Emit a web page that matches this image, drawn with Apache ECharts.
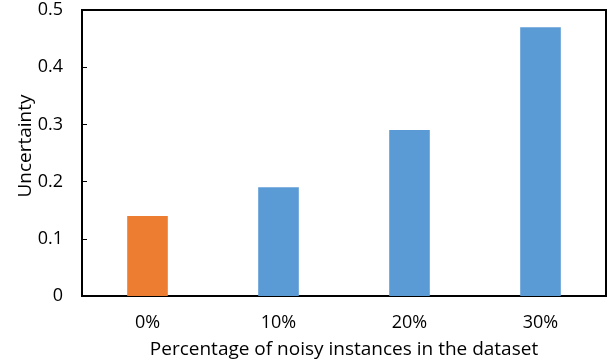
<!DOCTYPE html>
<html>
<head>
<meta charset="utf-8">
<script src="https://cdn.jsdelivr.net/npm/echarts@6/dist/echarts.min.js"></script>
<style>html,body{margin:0;padding:0;background:#fff;}#c{width:616px;height:364px;}</style>
</head>
<body>
<div id="c"></div>
<script>
var categories = ['0%', '10%', '20%', '30%'];
var values = [0.14, 0.19, 0.29, 0.47];
var barColors = ['#ED7D31', '#5B9BD5', '#5B9BD5', '#5B9BD5'];
var yTicks = [0, 0.1, 0.2, 0.3, 0.4, 0.5];

var font = '"Open Sans", "Noto Sans", sans-serif';
var chart = echarts.init(document.getElementById('c'), null, {renderer: 'canvas'});
chart.setOption({
  animation: false,
  backgroundColor: '#fff',
  grid: {left: 82, right: 10, top: 10, bottom: 65, show: true, borderColor: '#000', borderWidth: 2, backgroundColor: 'transparent'},
  xAxis: {
    type: 'category',
    data: categories,
    name: 'Percentage of noisy instances in the dataset',
    nameLocation: 'middle',
    nameGap: 44,
    nameMoveOverlap: false,
    nameTextStyle: {fontFamily: font, fontSize: 19, color: '#000'},
    axisLine: {lineStyle: {color: '#000', width: 2}},
    axisTick: {inside: true, length: 5, lineStyle: {color: '#000', width: 1}},
    axisLabel: {fontFamily: font, fontSize: 18, color: '#000', margin: 18}
  },
  yAxis: {
    type: 'value',
    min: yTicks[0],
    max: yTicks[yTicks.length - 1],
    interval: 0.1,
    name: 'Uncertainty',
    nameLocation: 'middle',
    nameRotate: 90,
    nameGap: 47,
    nameMoveOverlap: false,
    nameTextStyle: {fontFamily: font, fontSize: 19, color: '#000', padding: [0, 0, 0, 14]},
    axisLine: {show: true, lineStyle: {color: '#000', width: 2}},
    axisTick: {show: true, inside: true, length: 5, lineStyle: {color: '#000', width: 1}},
    splitLine: {show: false},
    axisLabel: {fontFamily: font, fontSize: 18, color: '#000', margin: 19}
  },
  series: [{
    type: 'bar',
    barWidth: '31%',
    data: values.map(function (v, i) { return {value: v, itemStyle: {color: barColors[i]}}; })
  }]
});
</script>
</body>
</html>
